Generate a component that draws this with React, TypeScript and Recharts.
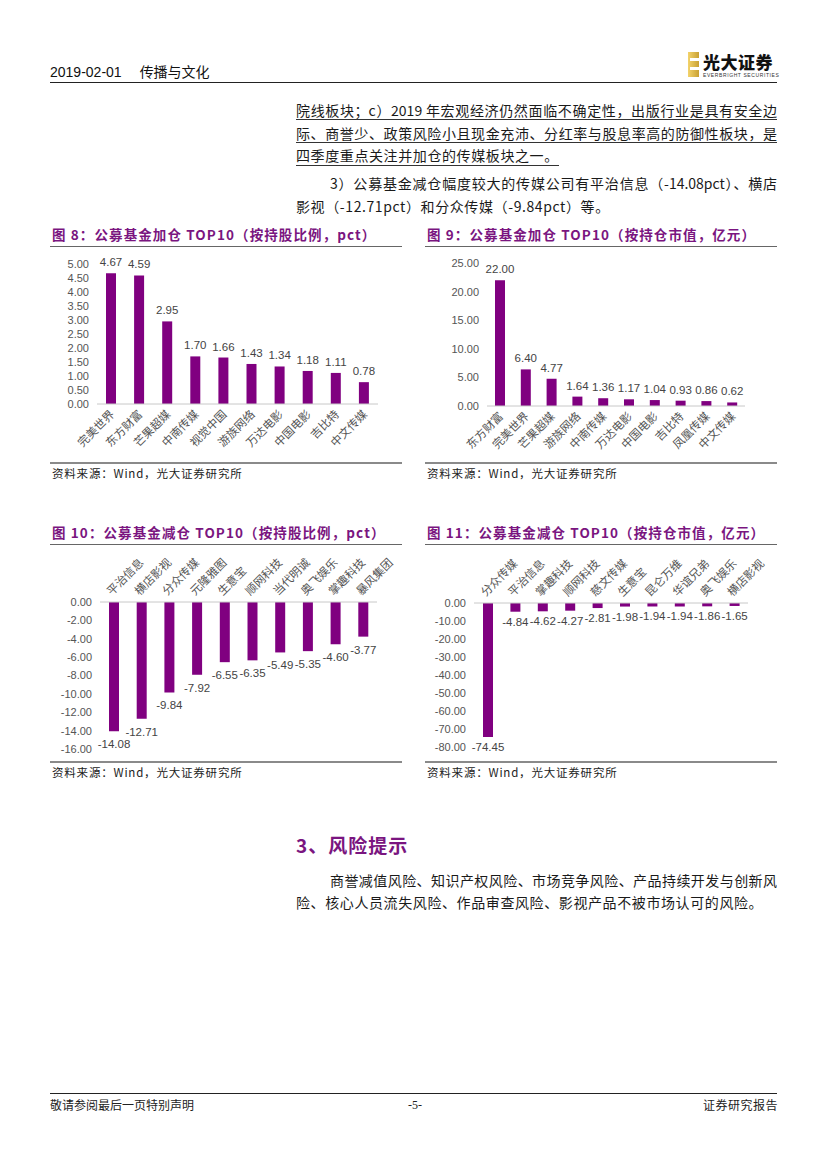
import React from "react";
import { BarChart, Bar, XAxis, YAxis, LabelList } from "recharts";

// 图8 公募基金加仓 TOP10（按持股比例，pct）
const addRatioNames = ["完美世界", "东方财富", "芒果超媒", "中南传媒", "视觉中国", "游族网络", "万达电影", "中国电影", "吉比特", "中文传媒"];
const addRatioValues = [4.67, 4.59, 2.95, 1.7, 1.66, 1.43, 1.34, 1.18, 1.11, 0.78];
const addRatioTicks = [0, 0.5, 1, 1.5, 2, 2.5, 3, 3.5, 4, 4.5, 5];

// 图9 公募基金加仓 TOP10（按持仓市值，亿元）
const addValueNames = ["东方财富", "完美世界", "芒果超媒", "游族网络", "中南传媒", "万达电影", "中国电影", "吉比特", "凤凰传媒", "中文传媒"];
const addValueValues = [22.0, 6.4, 4.77, 1.64, 1.36, 1.17, 1.04, 0.93, 0.86, 0.62];
const addValueTicks = [0, 5, 10, 15, 20, 25];

// 图10 公募基金减仓 TOP10（按持股比例，pct）
const cutRatioNames = ["平治信息", "横店影视", "分众传媒", "元隆雅图", "生意宝", "顺网科技", "当代明诚", "奥飞娱乐", "掌趣科技", "暴风集团"];
const cutRatioValues = [-14.08, -12.71, -9.84, -7.92, -6.55, -6.35, -5.49, -5.35, -4.6, -3.77];
const cutRatioTicks = [0, -2, -4, -6, -8, -10, -12, -14, -16];

// 图11 公募基金减仓 TOP10（按持仓市值，亿元）
const cutValueNames = ["分众传媒", "平治信息", "掌趣科技", "顺网科技", "慈文传媒", "生意宝", "昆仑万维", "华谊兄弟", "奥飞娱乐", "横店影视"];
const cutValueValues = [-74.45, -4.84, -4.62, -4.27, -2.81, -1.98, -1.94, -1.94, -1.86, -1.65];
const cutValueTicks = [0, -10, -20, -30, -40, -50, -60, -70, -80];

const PURPLE = "#800080";
const TITLE = "#7a1580";
const FONT = '"Liberation Sans", "Noto Sans CJK SC", sans-serif';
const CJK = '"Noto Sans CJK SC", "Liberation Sans", sans-serif';

const toRows = (names: string[], values: number[]) => names.map((name, i) => ({ name, value: values[i] }));

const BottomTick = (props: any) => {
  const { x, y, payload } = props;
  const tx = x + 4;
  const ty = y + 3;
  return (
    <text x={tx} y={ty} transform={`rotate(-45 ${tx} ${ty})`} textAnchor="end" fontSize={11.5} fill="#555" fontFamily={CJK}>
      {payload.value}
    </text>
  );
};

const TopTick = (props: any) => {
  const { x, y, payload } = props;
  const tx = x - 2;
  const ty = y + 2;
  return (
    <text x={tx} y={ty} transform={`rotate(-45 ${tx} ${ty})`} textAnchor="start" fontSize={11.5} fill="#555" fontFamily={CJK}>
      {payload.value}
    </text>
  );
};

const makeLabel = (below: boolean, gap: number) => (props: any) => {
  const { x, y, width, height, value } = props;
  const top = Math.min(y, y + height);
  const bottom = Math.max(y, y + height);
  return (
    <text x={x + width / 2} y={below ? bottom + gap : top - gap} textAnchor="middle" fontSize={11.5} fill="#444" fontFamily={FONT}>
      {Number(value).toFixed(2)}
    </text>
  );
};

type ChartProps = {
  names: string[];
  values: number[];
  ticks: number[];
  domain: [number, number];
  left: number;
  top: number;
  width: number;
  height: number;
  margin: { top: number; right: number; bottom: number; left: number };
  yWidth: number;
  xHeight: number;
  negative: boolean;
  labelGap: number;
};

function Chart(p: ChartProps) {
  return (
    <div style={{ position: "absolute", left: p.left, top: p.top }}>
      <BarChart width={p.width} height={p.height} data={toRows(p.names, p.values)} margin={p.margin} barSize={10}>
        <XAxis
          dataKey="name"
          orientation={p.negative ? "top" : "bottom"}
          height={p.xHeight}
          interval={0}
          tickLine={false}
          axisLine={{ stroke: "#c8c8c8" }}
          tick={p.negative ? <TopTick /> : <BottomTick />}
        />
        <YAxis
          width={p.yWidth}
          domain={p.domain}
          ticks={p.ticks}
          interval={0}
          axisLine={false}
          tickLine={false}
          tickFormatter={(v: number) => v.toFixed(2)}
          tick={{ fontSize: 11, fill: "#555", fontFamily: FONT }}
        />
        <Bar dataKey="value" fill={PURPLE} isAnimationActive={false}>
          <LabelList dataKey="value" content={makeLabel(p.negative, p.labelGap)} />
        </Bar>
      </BarChart>
    </div>
  );
}

const abs = (left: number, top: number, extra: React.CSSProperties = {}): React.CSSProperties => ({
  position: "absolute",
  left,
  top,
  whiteSpace: "nowrap",
  ...extra,
});

const bodyText: React.CSSProperties = { fontFamily: CJK, fontSize: 14, color: "#1a1a1a", lineHeight: "20px" };

function Justified({ left, top, width, text, underline }: { left: number; top: number; width: number; text: string; underline?: boolean }) {
  return (
    <div style={{ ...abs(left, top, bodyText), width, textAlign: "justify", textAlignLast: "justify", whiteSpace: "normal", overflow: "hidden", height: 20 }}>
      {text}
      {underline && <div style={{ position: "absolute", left: 0, right: 0, top: 19, borderTop: "1.5px solid #333" }} />}
    </div>
  );
}

function ChartFrame({ left, width, top, title, sourceTop }: { left: number; width: number; top: number; title: string; sourceTop: number }) {
  return (
    <>
      <div style={abs(left + 2, top, { fontFamily: CJK, fontSize: 13.5, fontWeight: 700, color: TITLE, letterSpacing: 1.1, lineHeight: "18px" })}>{title}</div>
      <div style={{ position: "absolute", left, top: top + 21, width, borderTop: "1px solid #666" }} />
      <div style={{ position: "absolute", left, top: sourceTop, width, borderTop: "2px solid #8a8a8a" }} />
      <div style={abs(left + 2, sourceTop + 3, { fontFamily: CJK, fontSize: 11.5, color: "#222", letterSpacing: 0.8, lineHeight: "16px" })}>
        资料来源：Wind，光大证券研究所
      </div>
    </>
  );
}

export default function App() {
  return (
    <div style={{ position: "absolute", left: 0, top: 0, width: 827, height: 1169, background: "#fff", overflow: "hidden" }}>
      {/* header */}
      <div style={abs(50, 62, { fontFamily: FONT, fontSize: 14, color: "#111", lineHeight: "18px" })}>
        2019-02-01<span style={{ display: "inline-block", width: 18 }} />
        <span style={{ fontFamily: CJK }}>传播与文化</span>
      </div>
      <div style={{ position: "absolute", left: 50, top: 82, width: 727, borderTop: "1.5px solid #222" }} />
      <div style={{ position: "absolute", left: 688, top: 52, width: 11, height: 25, background: "linear-gradient(90deg,#f3d36b,#c9a133)" }} />
      <div style={{ position: "absolute", left: 690, top: 58, width: 9, height: 3, background: "#fff" }} />
      <div style={{ position: "absolute", left: 690, top: 67, width: 9, height: 3, background: "#fff" }} />
      <div style={abs(703, 52, { fontFamily: CJK, fontSize: 17, fontWeight: 900, color: "#111", lineHeight: "20px", letterSpacing: 0.5 })}>光大证券</div>
      <div style={abs(703, 72, { fontFamily: FONT, fontSize: 5, color: "#333", lineHeight: "6px", letterSpacing: 0.6 })}>EVERBRIGHT SECURITIES</div>

      {/* paragraph */}
      <Justified left={296} top={100} width={481} underline text="院线板块；c）2019 年宏观经济仍然面临不确定性，出版行业是具有安全边" />
      <Justified left={296} top={123} width={481} underline text="际、商誉少、政策风险小且现金充沛、分红率与股息率高的防御性板块，是" />
      <div style={abs(296, 145, { ...bodyText, letterSpacing: 0.6 })}>
        <span style={{ borderBottom: "1.5px solid #333", paddingBottom: 0 }}>四季度重点关注并加仓的传媒板块之一。</span>
      </div>
      <Justified left={330} top={173} width={447} text="3）公募基金减仓幅度较大的传媒公司有平治信息（-14.08pct）、横店" />
      <div style={abs(296, 196, { ...bodyText, letterSpacing: 0.6 })}>影视（-12.71pct）和分众传媒（-9.84pct）等。</div>

      {/* charts */}
      <ChartFrame left={50} width={352} top={225} title="图 8：公募基金加仓 TOP10（按持股比例，pct）" sourceTop={462} />
      <ChartFrame left={425} width={352} top={225} title="图 9：公募基金加仓 TOP10（按持仓市值，亿元）" sourceTop={462} />
      <ChartFrame left={50} width={352} top={523} title="图 10：公募基金减仓 TOP10（按持股比例，pct）" sourceTop={761} />
      <ChartFrame left={425} width={352} top={523} title="图 11：公募基金减仓 TOP10（按持仓市值，亿元）" sourceTop={761} />

      <Chart
        names={addRatioNames}
        values={addRatioValues}
        ticks={addRatioTicks}
        domain={[0, 5]}
        left={40}
        top={240}
        width={360}
        height={220}
        margin={{ top: 24, right: 22, bottom: 6, left: 0 }}
        yWidth={57}
        xHeight={50}
        negative={false}
        labelGap={7}
      />
      <Chart
        names={addValueNames}
        values={addValueValues}
        ticks={addValueTicks}
        domain={[0, 25]}
        left={420}
        top={240}
        width={345}
        height={220}
        margin={{ top: 23, right: 20, bottom: 4, left: 0 }}
        yWidth={67}
        xHeight={50}
        negative={false}
        labelGap={7}
      />
      <Chart
        names={cutRatioNames}
        values={cutRatioValues}
        ticks={cutRatioTicks}
        domain={[-16, 0]}
        left={40}
        top={550}
        width={360}
        height={210}
        margin={{ top: 2, right: 23, bottom: 11, left: 0 }}
        yWidth={60}
        xHeight={50}
        negative={true}
        labelGap={17}
      />
      <Chart
        names={cutValueNames}
        values={cutValueValues}
        ticks={cutValueTicks}
        domain={[-80, 0]}
        left={420}
        top={550}
        width={350}
        height={210}
        margin={{ top: 3, right: 22, bottom: 13, left: 0 }}
        yWidth={54}
        xHeight={50}
        negative={true}
        labelGap={14}
      />

      {/* section 3 */}
      <div style={abs(296, 833, { fontFamily: CJK, fontSize: 19, fontWeight: 700, color: TITLE, lineHeight: "24px", letterSpacing: 1 })}>3、风险提示</div>
      <Justified left={330} top={870} width={447} text="商誉减值风险、知识产权风险、市场竞争风险、产品持续开发与创新风" />
      <div style={abs(296, 892, { ...bodyText, letterSpacing: 0.6 })}>险、核心人员流失风险、作品审查风险、影视产品不被市场认可的风险。</div>

      {/* footer */}
      <div style={{ position: "absolute", left: 50, top: 1093, width: 727, borderTop: "1.5px solid #222" }} />
      <div style={abs(50, 1097, { fontFamily: CJK, fontSize: 12, color: "#222", lineHeight: "16px" })}>敬请参阅最后一页特别声明</div>
      <div style={abs(408, 1097, { fontFamily: '"Liberation Serif", serif', fontSize: 12, color: "#222", lineHeight: "16px" })}>-5-</div>
      <div style={abs(703, 1097, { fontFamily: CJK, fontSize: 12, color: "#222", lineHeight: "16px", letterSpacing: 0.5 })}>证券研究报告</div>
    </div>
  );
}
